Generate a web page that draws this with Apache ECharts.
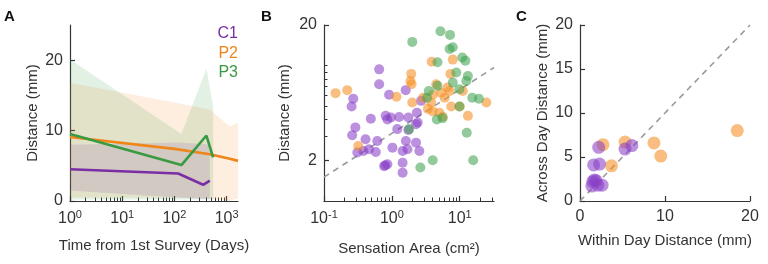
<!DOCTYPE html>
<html>
<head>
<meta charset="utf-8">
<script src="https://cdn.jsdelivr.net/npm/echarts@6.0.0/dist/echarts.min.js"></script>
<style>
  html, body { margin: 0; padding: 0; background: #fff; }
  #chart { width: 768px; height: 264px; }
</style>
</head>
<body>
<div id="chart"></div>
<script>
// --- Panel A: distance over time (mean line + shaded range) ---
const c1Days = [1, 118, 355, 475];
const c1Mean = [4.5, 3.9, 2.3, 2.9];
const c1Low = [1.5, 0.5, 0.3, 0.3];
const c1High = [8.0, 8.3, 8.1, 8.0];

const p2Days = [1, 100, 475, 1150, 1650];
const p2Mean = [9.1, 7.4, 6.65, 6.0, 5.7];
const p2Low = [0.5, 0.5, 0.4, 0.0, 0.4];
const p2High = [16.8, 14.0, 13.0, 10.6, 11.1];

const p3Days = [1, 136, 410, 550];
const p3Mean = [9.5, 5.1, 9.3, 6.2];
const p3Low = [0.2, 0.2, 0.2, 0.2];
const p3High = [20.1, 9.5, 18.8, 13.5];

const aTimeTicks = [1, 10, 100, 1000];
const aDistTicks = [0, 10, 20];

// --- Panel B: distance vs sensation area [area cm2, distance mm] ---
const bPurple = [
  [0.65, 9.4], [0.65, 7.3], [0.27, 5.7], [0.255, 5.0], [0.91, 6.1], [1.6, 6.6], [2.7, 5.5],
  [0.49, 4.05], [0.81, 4.26], [0.86, 4.0], [0.97, 4.14], [1.28, 4.18], [1.75, 4.14], [2.34, 4.5],
  [2.4, 3.81], [2.27, 3.7], [1.2, 3.4], [1.75, 3.35], [0.29, 3.5], [0.26, 3.06], [0.41, 2.86],
  [0.61, 2.78], [1.61, 2.78], [2.27, 2.7], [0.46, 2.41], [0.38, 2.34], [0.31, 2.28], [0.58, 2.3],
  [1.02, 2.48], [1.44, 2.34], [1.7, 2.41], [2.54, 2.34], [0.77, 1.81], [0.86, 1.87], [0.8, 1.84],
  [1.44, 1.92], [1.44, 1.62]
];
const bOrange = [
  [0.148, 6.27], [0.22, 6.6], [0.32, 2.55], [1.17, 5.9], [1.93, 8.7], [1.88, 7.7], [1.95, 7.3],
  [2.0, 5.35], [2.9, 5.8], [3.86, 10.7], [3.4, 4.8], [3.8, 5.35], [4.0, 6.1], [4.0, 4.6],
  [4.5, 7.3], [5.0, 4.5], [5.3, 6.3], [5.6, 4.2], [6.0, 5.8], [6.6, 6.9], [7.1, 6.5], [7.3, 8.7],
  [7.5, 5.0], [7.9, 11.1], [10.0, 5.0], [11.1, 6.5], [13.2, 4.26], [24.7, 5.35]
];
const bGreen = [
  [5.2, 18.0], [7.2, 16.9], [2.0, 15.0], [7.1, 13.3], [7.9, 13.7], [10.9, 11.5], [12.1, 10.9],
  [4.7, 10.6], [8.9, 8.9], [13.2, 8.4], [12.5, 7.7], [7.9, 7.5], [3.5, 6.5], [4.7, 7.1],
  [9.9, 6.7], [15.3, 5.8], [19.2, 5.7], [9.9, 5.0], [4.6, 4.0], [5.6, 4.1], [1.8, 3.4],
  [12.7, 3.2], [4.0, 2.0], [15.8, 2.0], [2.63, 1.77], [3.3, 5.8]
];
const bFit = [[0.1, 1.5], [32, 9.7]];
const bAreaTicks = [0.1, 1, 10];
const bDistTicks = [2, 20];

// --- Panel C: across-day vs within-day distance ---
const cOrange = [[18.5, 8.0], [8.7, 6.6], [9.5, 5.1], [5.3, 6.7], [2.7, 6.4], [3.7, 4.0]];
const cPurple = [
  [2.2, 6.1], [5.3, 5.9], [6.1, 6.3], [1.6, 4.1], [2.3, 4.2], [1.5, 2.2], [1.7, 2.4],
  [1.9, 2.3], [2.1, 1.8], [1.4, 1.7], [2.6, 1.8]
];
const cDiag = [[0, 0], [20, 20]];
const cWithinTicks = [0, 10, 20];
const cAcrossTicks = [0, 5, 10, 15, 20];

const FONT = '"Liberation Sans", Arial, sans-serif';
const INK = '#333';
const PURPLE = '#7b2fa5';
const ORANGE = '#f08519';
const GREEN = '#3a9a42';

// minor log ticks (2..9 in each decade)
const steps = [2, 3, 4, 5, 6, 7, 8, 9];
const aMinor = [1, 10, 100].flatMap((d) => steps.map((k) => k * d));
const bMinorX = [0.1, 1].flatMap((d) => steps.map((k) => k * d)).concat([20, 30]);
const bMinorY = [3, 4, 5, 6, 7, 8, 9, 10];

const powRich = {
  b: { fontSize: 16, lineHeight: 20, color: INK, fontFamily: FONT },
  e: { fontSize: 11, lineHeight: 11, color: INK, fontFamily: FONT, verticalAlign: 'top' },
};
function powLabel(v) {
  const e = Math.round(Math.log10(v));
  return '{b|10}{e|' + e + '}';
}

function axis(opt) {
  return Object.assign({
    axisLine: { show: true, lineStyle: { color: INK, width: 1.2 } },
    splitLine: { show: false },
    nameLocation: 'middle',
    nameTextStyle: { color: INK, fontSize: 15, fontFamily: FONT },
  }, opt);
}

function ticks(values) {
  return { show: true, inside: true, length: 5, customValues: values, lineStyle: { color: INK, width: 1.2 } };
}

function labels(values, margin, extra) {
  return Object.assign({
    customValues: values, color: INK, fontSize: 16, fontFamily: FONT, margin,
  }, extra);
}

function minorAxis(opt, values) {
  return Object.assign({
    axisLine: { show: false },
    axisTick: { show: true, inside: true, length: 3.5, customValues: values, lineStyle: { color: INK, width: 1 } },
    axisLabel: { show: false },
    splitLine: { show: false },
  }, opt);
}

function zipXY(xs, ys) {
  return xs.map((x, i) => [x, ys[i]]);
}

// shaded range drawn as one polygon through the axis scales
function band(xs, low, high, color) {
  return {
    type: 'custom', xAxisIndex: 0, yAxisIndex: 0, silent: true, z: 1,
    data: [[xs[0], low[0]]],
    renderItem: (params, api) => {
      const top = xs.map((x, i) => api.coord([x, high[i]]));
      const bottom = xs.map((x, i) => api.coord([x, low[i]])).reverse();
      return {
        type: 'polygon',
        shape: { points: top.concat(bottom) },
        style: { fill: color, opacity: 0.14 },
      };
    },
  };
}

function meanLine(xs, ys, color) {
  return {
    type: 'line', xAxisIndex: 0, yAxisIndex: 0, showSymbol: false, silent: true,
    lineStyle: { color, width: 2.6 }, data: zipXY(xs, ys), z: 3,
  };
}

function dots(xi, yi, data, color, size) {
  return {
    type: 'scatter', xAxisIndex: xi, yAxisIndex: yi, data, symbolSize: size,
    itemStyle: { color, opacity: 0.58 }, z: 3,
  };
}

function dashed(xi, yi, data) {
  return {
    type: 'line', xAxisIndex: xi, yAxisIndex: yi, data, showSymbol: false, silent: true,
    lineStyle: { color: '#9a9a9a', width: 1.6, type: [6, 5] }, z: 2,
  };
}

const chart = echarts.init(document.getElementById('chart'), null, { renderer: 'canvas' });

const option = {
  animation: false,
  backgroundColor: '#fff',
  grid: [
    { left: 70, top: 25, width: 168, height: 176 },
    { left: 324, top: 25, width: 170, height: 176 },
    { left: 580, top: 25, width: 170, height: 176 },
  ],
  xAxis: [
    axis({
      gridIndex: 0, type: 'log', logBase: 10, min: 1, max: 1650,
      name: 'Time from 1st Survey (Days)', nameGap: 37,
      axisTick: ticks(aTimeTicks),
      axisLabel: labels(aTimeTicks, 8, { formatter: powLabel, rich: powRich }),
    }),
    axis({
      gridIndex: 1, type: 'log', logBase: 10, min: 0.1, max: 32,
      name: 'Sensation Area (cm²)', nameGap: 40,
      axisTick: ticks(bAreaTicks),
      axisLabel: labels(bAreaTicks, 8, { formatter: powLabel, rich: powRich }),
    }),
    axis({
      gridIndex: 2, type: 'value', min: 0, max: 20,
      name: 'Within Day Distance (mm)', nameGap: 32,
      axisTick: ticks(cWithinTicks),
      axisLabel: labels(cWithinTicks, 8),
    }),
    minorAxis({ gridIndex: 0, type: 'log', logBase: 10, min: 1, max: 1650, position: 'bottom' }, aMinor),
    minorAxis({ gridIndex: 1, type: 'log', logBase: 10, min: 0.1, max: 32, position: 'bottom' }, bMinorX),
  ],
  yAxis: [
    axis({
      gridIndex: 0, type: 'value', min: 0, max: 25,
      name: 'Distance (mm)', nameGap: 30,
      axisTick: ticks(aDistTicks),
      axisLabel: labels(aDistTicks, 7),
    }),
    axis({
      gridIndex: 1, type: 'log', logBase: 10, min: 1, max: 20, position: 'left',
      name: 'Distance (mm)', nameGap: 32,
      axisTick: ticks(bDistTicks),
      axisLabel: labels(bDistTicks, 7),
    }),
    axis({
      gridIndex: 2, type: 'value', min: 0, max: 20,
      name: 'Across Day Distance (mm)', nameGap: 30,
      axisTick: ticks(cAcrossTicks),
      axisLabel: labels(cAcrossTicks, 7),
    }),
    minorAxis({ gridIndex: 1, type: 'log', logBase: 10, min: 1, max: 20, position: 'left' }, bMinorY),
  ],
  series: [
    band(p2Days, p2Low, p2High, ORANGE),
    band(p3Days, p3Low, p3High, GREEN),
    band(c1Days, c1Low, c1High, PURPLE),
    meanLine(p2Days, p2Mean, ORANGE),
    meanLine(p3Days, p3Mean, GREEN),
    meanLine(c1Days, c1Mean, PURPLE),

    dashed(1, 1, bFit),
    dots(1, 1, bPurple, '#8a3fc6', 10),
    dots(1, 1, bOrange, '#f58f22', 10),
    dots(1, 1, bGreen, '#44a352', 10),

    dashed(2, 2, cDiag),
    dots(2, 2, cOrange, '#f58f22', 13),
    dots(2, 2, cPurple, '#8a3fc6', 13),
  ],
  graphic: [
    { type: 'text', left: 4, top: 9, style: { text: 'A', font: 'bold 15px ' + FONT, fill: '#111' } },
    { type: 'text', left: 261, top: 9, style: { text: 'B', font: 'bold 15px ' + FONT, fill: '#111' } },
    { type: 'text', left: 516, top: 9, style: { text: 'C', font: 'bold 15px ' + FONT, fill: '#111' } },
    { type: 'text', right: 530, top: 26, style: { text: 'C1', font: '16px ' + FONT, fill: PURPLE } },
    { type: 'text', right: 530, top: 46, style: { text: 'P2', font: '16px ' + FONT, fill: ORANGE } },
    { type: 'text', right: 530, top: 65, style: { text: 'P3', font: '16px ' + FONT, fill: GREEN } },
  ],
};

chart.setOption(option);
</script>
</body>
</html>
